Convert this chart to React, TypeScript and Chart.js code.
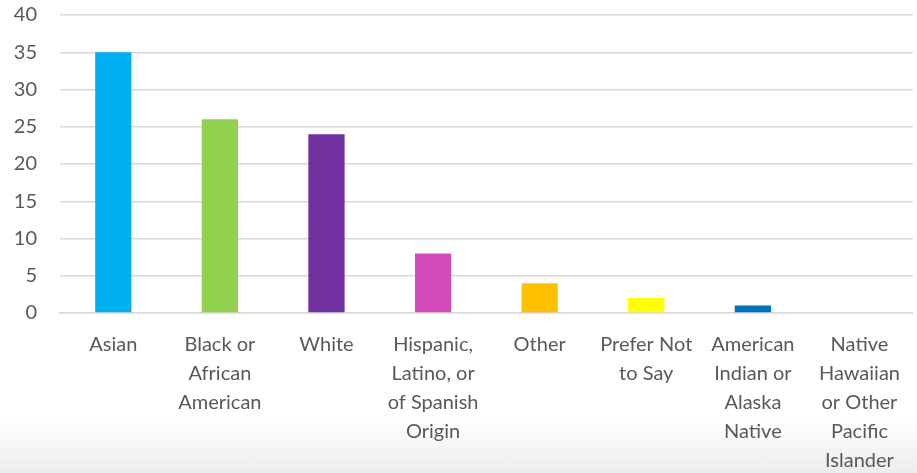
import React, { useEffect, useRef } from "react";
import { Chart, registerables } from "chart.js";

Chart.register(...registerables);

const categories: string[][] = [
  ["Asian"],
  ["Black or", "African", "American"],
  ["White"],
  ["Hispanic,", "Latino, or", "of Spanish", "Origin"],
  ["Other"],
  ["Prefer Not", "to Say"],
  ["American", "Indian or", "Alaska", "Native"],
  ["Native", "Hawaiian", "or Other", "Pacific", "Islander"],
];
const counts: number[] = [35, 26, 24, 8, 4, 2, 1, 0];
const barColors: string[] = [
  "#00B0F0",
  "#92D050",
  "#7030A0",
  "#D64BBA",
  "#FFC000",
  "#FFFF00",
  "#0070C0",
  "#A5A5A5",
];
const yTicks: number[] = [0, 5, 10, 15, 20, 25, 30, 35, 40];

export default function App() {
  const ref = useRef<HTMLCanvasElement | null>(null);

  useEffect(() => {
    document.body.style.margin = "0";
    if (!ref.current) return;
    const chart = new Chart(ref.current, {
      type: "bar",
      data: {
        labels: categories,
        datasets: [
          {
            data: counts,
            backgroundColor: barColors,
            borderWidth: 0,
            barPercentage: 0.34,
            categoryPercentage: 1,
          },
        ],
      },
      options: {
        animation: false,
        responsive: false,
        maintainAspectRatio: false,
        layout: { padding: { top: 15, right: 0, left: 0, bottom: 0 } },
        plugins: {
          legend: { display: false },
          tooltip: { enabled: false },
        },
        scales: {
          x: {
            afterFit: (axis: any) => {
              axis.height = 160;
              axis.paddingTop = 0;
              axis.paddingBottom = 0;
            },
            grid: { display: false, drawTicks: false },
            border: { display: true, color: "#D9D9D9", width: 1.5 },
            ticks: {
              color: "#595959",
              font: { family: "Lato, 'Open Sans', sans-serif", size: 20, lineHeight: "29px" },
              padding: 17,
              maxRotation: 0,
              autoSkip: false,
            },
          },
          y: {
            min: 0,
            max: 40,
            afterFit: (axis: any) => {
              axis.width = 60;
              axis.paddingTop = 0;
              axis.paddingBottom = 0;
            },
            afterBuildTicks: (axis: any) => {
              axis.ticks = yTicks.map((v) => ({ value: v }));
            },
            grid: { color: "#D9D9D9", lineWidth: 1.5, drawTicks: false },
            border: { display: false },
            ticks: {
              color: "#595959",
              font: { family: "Lato, 'Open Sans', sans-serif", size: 20 },
              padding: 23,
            },
          },
        },
      },
    });
    return () => chart.destroy();
  }, []);

  return (
    <div
      style={{
        width: 917,
        height: 473,
        background: "linear-gradient(to bottom, #ffffff 0px, #ffffff 420px, #ececec 473px)",
      }}
    >
      <canvas ref={ref} width={917} height={473} />
    </div>
  );
}
